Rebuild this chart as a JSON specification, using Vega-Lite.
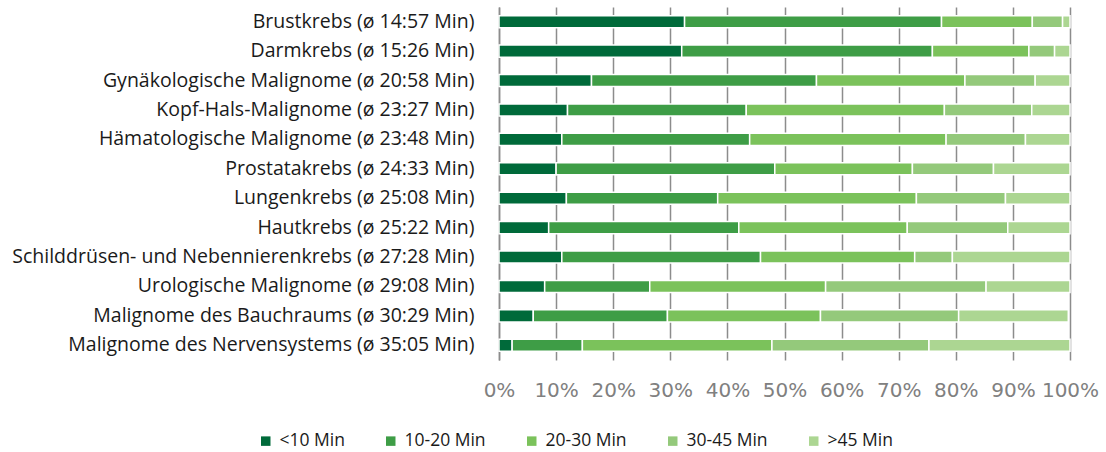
{
  "$schema": "https://vega.github.io/schema/vega-lite/v6.json",
  "width": 571,
  "height": 353,
  "autosize": {"type": "none"},
  "padding": {"left": 499, "top": 7, "right": 36, "bottom": 92},
  "config": {
    "view": {"stroke": null},
    "font": "Open Sans"
  },
  "data": {
    "values": [
      {"c": "Brustkrebs (ø 14:57 Min)", "k": 1, "b": "<10 Min", "p": 32.5},
      {"c": "Brustkrebs (ø 14:57 Min)", "k": 2, "b": "10-20 Min", "p": 45.0},
      {"c": "Brustkrebs (ø 14:57 Min)", "k": 3, "b": "20-30 Min", "p": 15.9},
      {"c": "Brustkrebs (ø 14:57 Min)", "k": 4, "b": "30-45 Min", "p": 5.3},
      {"c": "Brustkrebs (ø 14:57 Min)", "k": 5, "b": ">45 Min", "p": 1.3},
      {"c": "Darmkrebs (ø 15:26 Min)", "k": 1, "b": "<10 Min", "p": 32.0},
      {"c": "Darmkrebs (ø 15:26 Min)", "k": 2, "b": "10-20 Min", "p": 43.9},
      {"c": "Darmkrebs (ø 15:26 Min)", "k": 3, "b": "20-30 Min", "p": 16.9},
      {"c": "Darmkrebs (ø 15:26 Min)", "k": 4, "b": "30-45 Min", "p": 4.5},
      {"c": "Darmkrebs (ø 15:26 Min)", "k": 5, "b": ">45 Min", "p": 2.7},
      {"c": "Gynäkologische Malignome (ø 20:58 Min)", "k": 1, "b": "<10 Min", "p": 16.2},
      {"c": "Gynäkologische Malignome (ø 20:58 Min)", "k": 2, "b": "10-20 Min", "p": 39.4},
      {"c": "Gynäkologische Malignome (ø 20:58 Min)", "k": 3, "b": "20-30 Min", "p": 26.0},
      {"c": "Gynäkologische Malignome (ø 20:58 Min)", "k": 4, "b": "30-45 Min", "p": 12.3},
      {"c": "Gynäkologische Malignome (ø 20:58 Min)", "k": 5, "b": ">45 Min", "p": 6.1},
      {"c": "Kopf-Hals-Malignome (ø 23:27 Min)", "k": 1, "b": "<10 Min", "p": 12.0},
      {"c": "Kopf-Hals-Malignome (ø 23:27 Min)", "k": 2, "b": "10-20 Min", "p": 31.3},
      {"c": "Kopf-Hals-Malignome (ø 23:27 Min)", "k": 3, "b": "20-30 Min", "p": 34.7},
      {"c": "Kopf-Hals-Malignome (ø 23:27 Min)", "k": 4, "b": "30-45 Min", "p": 15.3},
      {"c": "Kopf-Hals-Malignome (ø 23:27 Min)", "k": 5, "b": ">45 Min", "p": 6.7},
      {"c": "Hämatologische Malignome (ø 23:48 Min)", "k": 1, "b": "<10 Min", "p": 11.0},
      {"c": "Hämatologische Malignome (ø 23:48 Min)", "k": 2, "b": "10-20 Min", "p": 32.9},
      {"c": "Hämatologische Malignome (ø 23:48 Min)", "k": 3, "b": "20-30 Min", "p": 34.4},
      {"c": "Hämatologische Malignome (ø 23:48 Min)", "k": 4, "b": "30-45 Min", "p": 13.9},
      {"c": "Hämatologische Malignome (ø 23:48 Min)", "k": 5, "b": ">45 Min", "p": 7.8},
      {"c": "Prostatakrebs (ø 24:33 Min)", "k": 1, "b": "<10 Min", "p": 10.0},
      {"c": "Prostatakrebs (ø 24:33 Min)", "k": 2, "b": "10-20 Min", "p": 38.3},
      {"c": "Prostatakrebs (ø 24:33 Min)", "k": 3, "b": "20-30 Min", "p": 24.1},
      {"c": "Prostatakrebs (ø 24:33 Min)", "k": 4, "b": "30-45 Min", "p": 14.2},
      {"c": "Prostatakrebs (ø 24:33 Min)", "k": 5, "b": ">45 Min", "p": 13.4},
      {"c": "Lungenkrebs (ø 25:08 Min)", "k": 1, "b": "<10 Min", "p": 11.8},
      {"c": "Lungenkrebs (ø 25:08 Min)", "k": 2, "b": "10-20 Min", "p": 26.5},
      {"c": "Lungenkrebs (ø 25:08 Min)", "k": 3, "b": "20-30 Min", "p": 34.8},
      {"c": "Lungenkrebs (ø 25:08 Min)", "k": 4, "b": "30-45 Min", "p": 15.6},
      {"c": "Lungenkrebs (ø 25:08 Min)", "k": 5, "b": ">45 Min", "p": 11.3},
      {"c": "Hautkrebs (ø 25:22 Min)", "k": 1, "b": "<10 Min", "p": 8.7},
      {"c": "Hautkrebs (ø 25:22 Min)", "k": 2, "b": "10-20 Min", "p": 33.3},
      {"c": "Hautkrebs (ø 25:22 Min)", "k": 3, "b": "20-30 Min", "p": 29.5},
      {"c": "Hautkrebs (ø 25:22 Min)", "k": 4, "b": "30-45 Min", "p": 17.6},
      {"c": "Hautkrebs (ø 25:22 Min)", "k": 5, "b": ">45 Min", "p": 10.9},
      {"c": "Schilddrüsen- und Nebennierenkrebs (ø 27:28 Min)", "k": 1, "b": "<10 Min", "p": 11.0},
      {"c": "Schilddrüsen- und Nebennierenkrebs (ø 27:28 Min)", "k": 2, "b": "10-20 Min", "p": 34.8},
      {"c": "Schilddrüsen- und Nebennierenkrebs (ø 27:28 Min)", "k": 3, "b": "20-30 Min", "p": 27.0},
      {"c": "Schilddrüsen- und Nebennierenkrebs (ø 27:28 Min)", "k": 4, "b": "30-45 Min", "p": 6.6},
      {"c": "Schilddrüsen- und Nebennierenkrebs (ø 27:28 Min)", "k": 5, "b": ">45 Min", "p": 20.6},
      {"c": "Urologische Malignome (ø 29:08 Min)", "k": 1, "b": "<10 Min", "p": 8.0},
      {"c": "Urologische Malignome (ø 29:08 Min)", "k": 2, "b": "10-20 Min", "p": 18.4},
      {"c": "Urologische Malignome (ø 29:08 Min)", "k": 3, "b": "20-30 Min", "p": 30.8},
      {"c": "Urologische Malignome (ø 29:08 Min)", "k": 4, "b": "30-45 Min", "p": 28.1},
      {"c": "Urologische Malignome (ø 29:08 Min)", "k": 5, "b": ">45 Min", "p": 14.7},
      {"c": "Malignome des Bauchraums (ø 30:29 Min)", "k": 1, "b": "<10 Min", "p": 6.0},
      {"c": "Malignome des Bauchraums (ø 30:29 Min)", "k": 2, "b": "10-20 Min", "p": 23.5},
      {"c": "Malignome des Bauchraums (ø 30:29 Min)", "k": 3, "b": "20-30 Min", "p": 26.8},
      {"c": "Malignome des Bauchraums (ø 30:29 Min)", "k": 4, "b": "30-45 Min", "p": 24.2},
      {"c": "Malignome des Bauchraums (ø 30:29 Min)", "k": 5, "b": ">45 Min", "p": 19.2},
      {"c": "Malignome des Nervensystems (ø 35:05 Min)", "k": 1, "b": "<10 Min", "p": 2.3},
      {"c": "Malignome des Nervensystems (ø 35:05 Min)", "k": 2, "b": "10-20 Min", "p": 12.3},
      {"c": "Malignome des Nervensystems (ø 35:05 Min)", "k": 3, "b": "20-30 Min", "p": 33.2},
      {"c": "Malignome des Nervensystems (ø 35:05 Min)", "k": 4, "b": "30-45 Min", "p": 27.5},
      {"c": "Malignome des Nervensystems (ø 35:05 Min)", "k": 5, "b": ">45 Min", "p": 24.7}
    ]
  },
  "mark": {"type": "bar", "stroke": "#ffffff", "strokeWidth": 1.5},
  "encoding": {
    "y": {
      "field": "c",
      "type": "nominal",
      "sort": null,
      "scale": {"paddingInner": 0.59, "paddingOuter": 0.295},
      "axis": {
        "title": null,
        "ticks": false,
        "domain": true,
        "domainColor": "#8c8c8c",
        "domainWidth": 1.5,
        "labelPadding": 25,
        "labelFont": "Open Sans",
        "labelFontSize": 19.5,
        "labelColor": "#1a1a1a",
        "labelLimit": 0
      }
    },
    "x": {
      "field": "p",
      "type": "quantitative",
      "stack": "zero",
      "scale": {"domain": [0, 100], "nice": false},
      "axis": {
        "title": null,
        "values": [0, 10, 20, 30, 40, 50, 60, 70, 80, 90, 100],
        "labelExpr": "datum.value + '%'",
        "grid": true,
        "gridColor": "#8c8c8c",
        "gridWidth": 1.5,
        "domain": false,
        "ticks": false,
        "labelFont": "DejaVu Sans",
        "labelFontSize": 20,
        "labelColor": "#808080",
        "labelPadding": 20,
        "labelFlush": false
      }
    },
    "color": {
      "field": "b",
      "type": "nominal",
      "scale": {
        "domain": ["<10 Min", "10-20 Min", "20-30 Min", "30-45 Min", ">45 Min"],
        "range": ["#006a3a", "#3e9d46", "#7bc25b", "#94c97b", "#acd692"]
      },
      "legend": {
        "title": null,
        "orient": "none",
        "direction": "horizontal",
        "legendX": -242,
        "legendY": 425,
        "symbolType": "square",
        "symbolSize": 90,
        "symbolStrokeWidth": 0,
        "labelFont": "Open Sans",
        "labelFontSize": 17.5,
        "labelColor": "#1a1a1a",
        "labelOffset": 5,
        "columnPadding": 37
      }
    },
    "order": {"field": "k", "type": "quantitative"}
  }
}
